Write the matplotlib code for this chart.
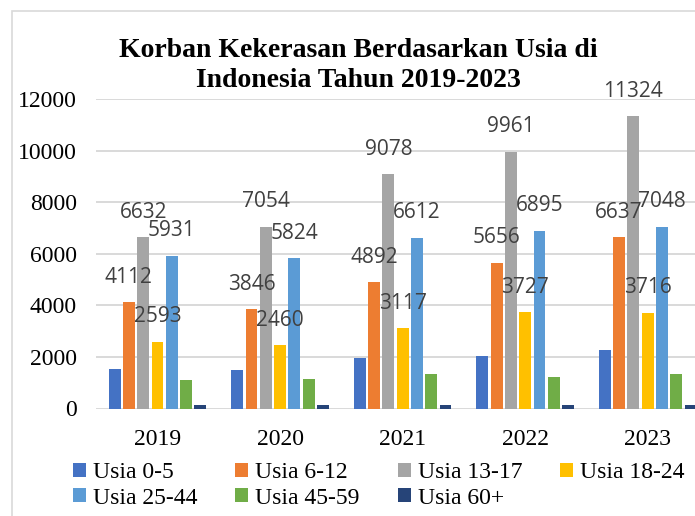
import matplotlib.pyplot as plt
import numpy as np
from matplotlib.patches import Rectangle

# data
tahun = ['2019', '2020', '2021', '2022', '2023']
kelompok = ['Usia 0-5', 'Usia 6-12', 'Usia 13-17', 'Usia 18-24',
            'Usia 25-44', 'Usia 45-59', 'Usia 60+']
usia_0_5 = [1540, 1500, 1950, 2040, 2270]
usia_6_12 = [4112, 3846, 4892, 5656, 6637]
usia_13_17 = [6632, 7054, 9078, 9961, 11324]
usia_18_24 = [2593, 2460, 3117, 3727, 3716]
usia_25_44 = [5931, 5824, 6612, 6895, 7048]
usia_45_59 = [1110, 1150, 1320, 1230, 1330]
usia_60 = [130, 120, 140, 150, 150]

seri = [usia_0_5, usia_6_12, usia_13_17, usia_18_24, usia_25_44, usia_45_59, usia_60]
warna = ['#4472C4', '#ED7D31', '#A5A5A5', '#FFC000', '#5B9BD5', '#70AD47', '#264478']
berlabel = [False, True, True, True, True, False, False]

W, H = 695, 516
fig = plt.figure(figsize=(W / 100, H / 100), dpi=100)
# axes run past the right edge like the cropped original
ax = fig.add_axes([96.25 / W, (H - 408.5) / H, (709 - 96.25) / W, (408.5 - 99) / H])

x = np.arange(len(tahun))
step = 0.1167
for i, (vals, c) in enumerate(zip(seri, warna)):
    b = ax.bar(x + (i - 3) * step, vals, width=0.097, color=c, zorder=3, label=kelompok[i])
    if berlabel[i]:
        for rect, v in zip(b, vals):
            ax.annotate(str(v), (rect.get_x() + rect.get_width() / 2, v),
                        xytext=(0, 18), textcoords='offset points',
                        ha='center', va='center', fontsize=15,
                        family='Open Sans', color='#404040', zorder=5)

ax.set_xlim(-0.5, 4.5)
ax.set_ylim(0, 12000)
ax.set_yticks(np.arange(0, 12001, 2000))
ax.set_xticks(x)
ax.set_xticklabels(tahun)
ax.yaxis.grid(True, color='#D9D9D9', lw=1.4, zorder=0)
ax.set_axisbelow(True)
for s in ax.spines.values():
    s.set_visible(False)
ax.tick_params(length=0, labelsize=17, pad=14)
for lab in ax.get_xticklabels() + ax.get_yticklabels():
    lab.set_family('Liberation Serif')
ax.tick_params(axis='x', pad=15)

fig.text(358 / W, (H - 38) / H, 'Korban Kekerasan Berdasarkan Usia di\nIndonesia Tahun 2019-2023',
         ha='center', va='top', fontsize=20, fontweight='bold',
         family='Liberation Serif', linespacing=1.26)

urut = [0, 4, 1, 5, 2, 6, 3]
h, l = ax.get_legend_handles_labels()
fig.legend([h[k] for k in urut], [l[k] for k in urut], ncol=4,
           loc='upper left', bbox_to_anchor=(73 / W, (H - 462) / H),
           frameon=False, borderpad=0, borderaxespad=0,
           prop={'family': 'Liberation Serif', 'size': 17},
           handlelength=0.55, handleheight=0.55, handletextpad=0.3,
           columnspacing=1.6, labelspacing=0.2)

fig.add_artist(Rectangle((12 / W, -0.1), 1.2, (H - 11) / H + 0.1,
                         transform=fig.transFigure, fill=False,
                         edgecolor='#D9D9D9', lw=1.2))

plt.savefig('out.png', dpi=100)
